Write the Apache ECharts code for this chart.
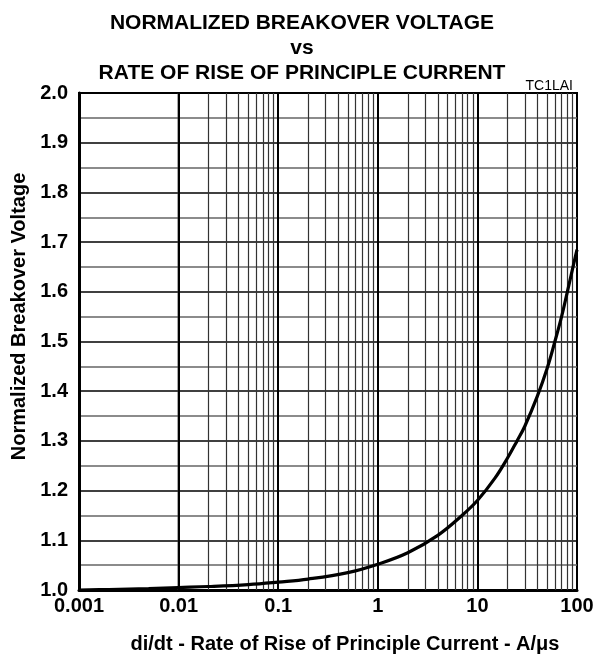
<!DOCTYPE html>
<html>
<head>
<meta charset="utf-8">
<script src="https://cdn.jsdelivr.net/npm/echarts@6/dist/echarts.min.js"></script>
<style>
  html, body { margin: 0; padding: 0; background: #fff; }
  #chart { width: 604px; height: 659px; }
</style>
</head>
<body>
<div id="chart"></div>
<script>
// curve
const xValues = [0.001, 0.002, 0.005, 0.01, 0.02, 0.05, 0.1, 0.2, 0.5, 1, 2, 4, 7, 10, 15, 20, 25, 30, 40, 50, 60, 70, 80, 90, 100];
const yValues = [1.0, 1.001, 1.003, 1.005, 1.007, 1.011, 1.016, 1.022, 1.035, 1.052, 1.075, 1.11, 1.15, 1.18, 1.225, 1.265, 1.3, 1.33, 1.39, 1.445, 1.5, 1.55, 1.6, 1.645, 1.685];
const xTickLabels = ["0.001", "0.01", "0.1", "1", "10", "100"];
const decades = [0.001, 0.01, 0.1, 1, 10, 100];
const minorSteps = [2, 3, 4, 5, 6, 7, 8, 9];

const font = "'Liberation Sans', Arial, Helvetica, sans-serif";

let chartDom = document.getElementById("chart");
let chart = echarts.init(chartDom);

const curve = xValues.map((x, i) => [x, yValues[i]]);

// log grid lines (2..9 in each decade, plus decades)
const gridLines = [];
decades.slice(0, 5).forEach((d) => {
  minorSteps.forEach((k) => {
    gridLines.push({ xAxis: +(d * k).toPrecision(3), lineStyle: { color: "#333", width: 1.2, type: "solid" } });
  });
});
decades.slice(1, 5).forEach((d) => {
  gridLines.push({ xAxis: d, lineStyle: { color: "#000", width: 2, type: "solid" } });
});

let option = {
  animation: false,
  title: [
    {
      text: "NORMALIZED BREAKOVER VOLTAGE\nvs\nRATE OF RISE OF PRINCIPLE CURRENT",
      left: "center",
      top: 6,
      textStyle: { fontFamily: font, fontSize: 21, fontWeight: "bold", color: "#000", lineHeight: 25 },
    },
    {
      text: "TC1LAI",
      right: 26,
      top: 74,
      textStyle: { fontFamily: font, fontSize: 14, fontWeight: "normal", color: "#000" },
    },
  ],
  grid: {
    left: 79,
    right: 27,
    top: 93,
    bottom: 67,
    show: true,
    borderColor: "#000",
    borderWidth: 2,
    containLabel: false,
  },
  xAxis: {
    type: "log",
    logBase: 10,
    min: 0.001,
    max: 100,
    name: "di/dt - Rate of Rise of Principle Current - A/\u03bcs",
    nameLocation: "middle",
    nameGap: 44,
    nameTextStyle: { fontFamily: font, fontSize: 20, fontWeight: "bold", color: "#000", padding: [0, 0, 0, 34] },
    axisLine: { show: true, lineStyle: { color: "#000", width: 3 } },
    axisTick: { show: false },
    splitLine: { show: false },
    axisLabel: {
      fontFamily: font,
      fontSize: 20,
      fontWeight: "bold",
      color: "#000",
      margin: 6,
      formatter: (v) => xTickLabels[Math.round(Math.log10(v)) + 3],
    },
  },
  yAxis: {
    type: "value",
    min: 1.0,
    max: 2.0,
    interval: 0.1,
    name: "Normalized Breakover Voltage",
    nameLocation: "middle",
    nameGap: 46,
    nameTextStyle: { fontFamily: font, fontSize: 20, fontWeight: "bold", color: "#000", padding: [0, 0, 0, 50] },
    axisLine: { show: true, lineStyle: { color: "#000", width: 3 } },
    axisTick: { show: false },
    axisLabel: {
      fontFamily: font,
      fontSize: 20,
      fontWeight: "bold",
      color: "#000",
      margin: 11,
      formatter: (v) => v.toFixed(1),
    },
    splitLine: { show: true, lineStyle: { color: "#000", width: 1.5 } },
    minorTick: { show: false, splitNumber: 2 },
    minorSplitLine: { show: true, lineStyle: { color: "#666", width: 1.5 } },
  },
  series: [
    {
      name: "grid",
      type: "line",
      data: curve,
      showSymbol: false,
      silent: true,
      lineStyle: { opacity: 0 },
      z: 1,
      markLine: {
        silent: true,
        symbol: "none",
        label: { show: false },
        animation: false,
        data: gridLines,
      },
    },
    {
      name: "Breakover",
      type: "line",
      data: curve,
      smooth: 0.4,
      showSymbol: false,
      lineStyle: { color: "#000", width: 3.2 },
      z: 5,
    },
  ],
};

option && chart.setOption(option);
</script>
</body>
</html>
